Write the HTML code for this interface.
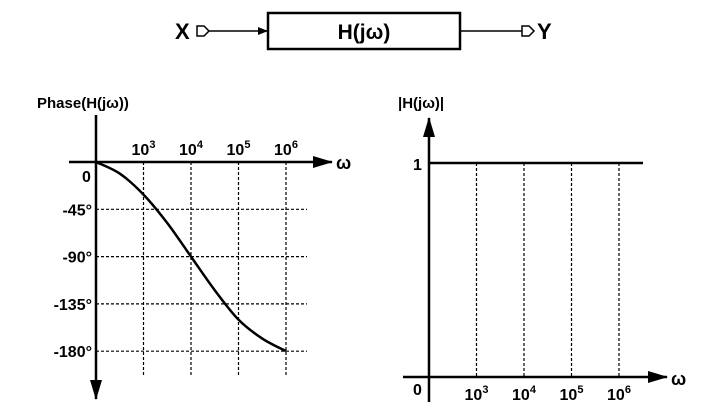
<!DOCTYPE html>
<html><head><meta charset="utf-8"><style>
html,body{margin:0;padding:0;background:#fff;}
svg{display:block;font-family:"Liberation Sans",sans-serif;font-weight:bold;}
</style></head><body>
<svg id="fig" width="703" height="415" viewBox="0 0 703 415">
<defs>
<marker id="ah" markerWidth="10" markerHeight="8" refX="9" refY="4" orient="auto" markerUnits="userSpaceOnUse"><path d="M0,0 L10,4 L0,8 Z" fill="#000"/></marker>
<marker id="ahb" markerWidth="20" markerHeight="12" refX="19" refY="6" orient="auto" markerUnits="userSpaceOnUse"><path d="M0,0 L20,6 L0,12 Z" fill="#000"/></marker>
</defs>
<g>
<text x="175" y="39" font-size="22">X</text>
<path d="M197,26 L204,26 L209,31 L204,36 L197,36 Z" fill="#fff" stroke="#000" stroke-width="1.5"/>
<line x1="209" y1="31" x2="267" y2="31" stroke="#000" stroke-width="1.5" marker-end="url(#ah)"/>
<rect x="268" y="13" width="192" height="36" fill="#fff" stroke="#000" stroke-width="2.5"/>
<text x="364" y="39" font-size="21" text-anchor="middle">H(jω)</text>
<line x1="460" y1="31" x2="522" y2="31" stroke="#000" stroke-width="1.5"/>
<path d="M522,26 L529,26 L534,31 L529,36 L522,36 Z" fill="#fff" stroke="#000" stroke-width="1.5"/>
<text x="537" y="39" font-size="22">Y</text>
</g>
<g id="phase"></g>
<g id="mag"></g>
</svg>
<script>
const decadeExps=[3,4,5,6];
const phaseTicks=[-45,-90,-135,-180];
const phaseLogW=[2,2.5,3,3.5,4,4.5,5,5.5,6];
const phaseDeg=[0,-11,-31,-58,-90,-122,-150,-168,-180];
const magLevel=1;
const NS="http://www.w3.org/2000/svg";
function el(p,t,a,txt){const e=document.createElementNS(NS,t);for(const k in a)e.setAttribute(k,a[k]);if(txt!=null)e.textContent=txt;p.appendChild(e);return e;}
function lbl(p,x,y,exp,anchor){const t=el(p,'text',{x:x,y:y,'font-size':16,'text-anchor':anchor||'middle'});
 el(t,'tspan',{},'10');el(t,'tspan',{dy:-7,'font-size':11},String(exp));return t;}
const P=document.getElementById('phase');
const px=w=>96+(w-2)*47.5, py=d=>162-d/45*47.3;
decadeExps.forEach(e=>{const l=el(P,'line',{x1:px(e),y1:py(0),x2:px(e),y2:377,stroke:'#000','stroke-width':1.2,'stroke-dasharray':'3,2'});
 
 const t=lbl(P,px(e),155,e);});
phaseTicks.forEach(d=>{const l=el(P,'line',{x1:96,y1:py(d),x2:307,y2:py(d),stroke:'#000','stroke-width':1.2,'stroke-dasharray':'3,2'});
 
 const t=el(P,'text',{x:92,y:py(d)+6,'font-size':16,'text-anchor':'end'},d+'°');
 });
const pts=phaseLogW.map((w,i)=>[px(w),py(phaseDeg[i])]);
let d='M'+pts[0][0]+','+pts[0][1];
for(let i=0;i<pts.length-1;i++){const p0=pts[Math.max(0,i-1)],p1=pts[i],p2=pts[i+1],p3=pts[Math.min(pts.length-1,i+2)];
 d+=' C'+(p1[0]+(p2[0]-p0[0])/6)+','+(p1[1]+(p2[1]-p0[1])/6)+' '+(p2[0]-(p3[0]-p1[0])/6)+','+(p2[1]-(p3[1]-p1[1])/6)+' '+p2[0]+','+p2[1];}
const c=el(P,'path',{d:d,fill:'none',stroke:'#000','stroke-width':2.5});

let a=el(P,'line',{x1:69,y1:162,x2:332,y2:162,stroke:'#000','stroke-width':2.5,'marker-end':'url(#ahb)'});

a=el(P,'line',{x1:96,y1:115,x2:96,y2:399,stroke:'#000','stroke-width':2.5,'marker-end':'url(#ahb)'});

let t=el(P,'text',{x:37,y:108,'font-size':15},'Phase(H(jω))');
t=el(P,'text',{x:336,y:169,'font-size':18},'ω');
t=el(P,'text',{x:82,y:182,'font-size':16},'0');
const M=document.getElementById('mag');
const mx=w=>429+(w-2)*47.5, my=v=>377-v*214;
decadeExps.forEach(e=>{const l=el(M,'line',{x1:mx(e),y1:my(magLevel),x2:mx(e),y2:377,stroke:'#000','stroke-width':1.2,'stroke-dasharray':'3,2'});
 
 const t=lbl(M,mx(e),400,e);});
const ml=el(M,'line',{x1:429,y1:my(magLevel),x2:643,y2:my(magLevel),stroke:'#000','stroke-width':2.5});

a=el(M,'line',{x1:403,y1:377,x2:667,y2:377,stroke:'#000','stroke-width':2.5,'marker-end':'url(#ahb)'});

a=el(M,'line',{x1:429,y1:402,x2:429,y2:118,stroke:'#000','stroke-width':2.5,'marker-end':'url(#ahb)'});

t=el(M,'text',{x:398,y:108,'font-size':15},'|H(jω)|');
t=el(M,'text',{x:671,y:385,'font-size':18},'ω');
t=el(M,'text',{x:413,y:395,'font-size':16},'0');
t=el(M,'text',{x:413,y:170,'font-size':16},String(magLevel));
</script>
</body></html>
